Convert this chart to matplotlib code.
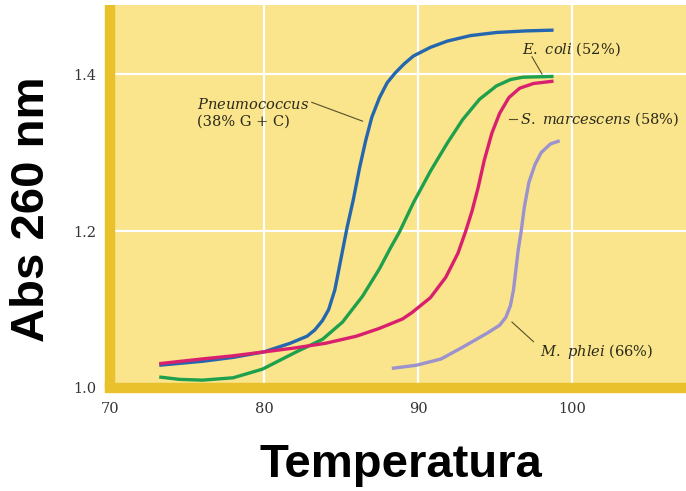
import matplotlib
matplotlib.use("Agg")
import matplotlib.pyplot as plt

# ------------- data -------------
pneumo_x = [73.2, 76, 78, 80, 81.7, 82.8, 83.3, 83.8, 84.2, 84.6, 85.0, 85.4, 85.8, 86.2, 86.6,
            87.0, 87.5, 88.0, 88.5, 89.1, 89.7, 90.8, 91.9, 93.4, 95.1, 97.0, 98.8]
pneumo_y = [1.029, 1.034, 1.039, 1.046, 1.057, 1.066, 1.074, 1.086, 1.100, 1.125, 1.165, 1.205,
            1.240, 1.280, 1.315, 1.345, 1.370, 1.389, 1.401, 1.413, 1.423, 1.434, 1.442, 1.449,
            1.453, 1.455, 1.456]

ecoli_x = [73.2, 74.5, 76, 78, 79.9, 82.1, 83.8, 85.1, 86.4, 87.5, 88.2, 88.8, 89.7, 90.8, 91.9,
           92.9, 94.0, 95.1, 96.0, 96.8, 98.8]
ecoli_y = [1.014, 1.011, 1.010, 1.013, 1.024, 1.046, 1.062, 1.084, 1.117, 1.152, 1.178, 1.199,
           1.236, 1.276, 1.312, 1.342, 1.368, 1.385, 1.393, 1.396, 1.397]

smarc_x = [73.2, 76, 78, 80, 82, 84, 86, 87.5, 89, 89.6, 90.8, 91.8, 92.6, 93.1, 93.5, 93.9, 94.3,
           94.8, 95.3, 95.9, 96.6, 97.5, 98.8]
smarc_y = [1.031, 1.037, 1.041, 1.046, 1.051, 1.057, 1.066, 1.076, 1.088, 1.096, 1.115, 1.141,
           1.172, 1.200, 1.225, 1.255, 1.290, 1.325, 1.350, 1.370, 1.382, 1.388, 1.391]

mphlei_x = [88.3, 89.9, 91.5, 92.9, 94.5, 95.3, 95.7, 96.0, 96.2, 96.35, 96.5, 96.7, 96.9, 97.2,
            97.6, 98.0, 98.6, 99.2]
mphlei_y = [1.025, 1.029, 1.037, 1.052, 1.070, 1.080, 1.090, 1.105, 1.125, 1.150, 1.175, 1.200,
            1.230, 1.262, 1.285, 1.300, 1.311, 1.315]

xticks = [70, 80, 90, 100]
yticks = [1.0, 1.2, 1.4]
ytick_labels = ["1.0", "1.2", "1.4"]

# ------------- styling -------------
plt.rcParams['mathtext.fontset'] = 'custom'
plt.rcParams['mathtext.rm'] = 'DejaVu Serif'
plt.rcParams['mathtext.it'] = 'DejaVu Serif:italic'

bg = '#FAE48C'
bar = '#E8C12C'
txt = '#2a2a1a'
serif = 'DejaVu Serif'

fig = plt.figure(figsize=(6.86, 4.91), dpi=100)
ax = fig.add_axes([0.1603, 0.2098, 0.8397, 0.78])
ax.set_facecolor(bg)
ax.set_xlim(70, 107.4)
ax.set_ylim(1.0, 1.488)

for s in ['top', 'right']:
    ax.spines[s].set_visible(False)
for s in ['left', 'bottom']:
    ax.spines[s].set_color(bar)
    ax.spines[s].set_linewidth(7.5)
    ax.spines[s].set_zorder(5)
ax.spines['left'].set_capstyle('butt')
ax.spines['bottom'].set_capstyle('projecting')

ax.set_xticks(xticks)
ax.set_yticks(yticks)
ax.set_yticklabels(ytick_labels)
ax.tick_params(length=0, labelsize=10.5, colors='#333333', pad=10)
for lab in ax.get_xticklabels() + ax.get_yticklabels():
    lab.set_family(serif)
ax.grid(True, color='white', linewidth=1.6)
ax.set_axisbelow(True)

lw = 2.4
ax.plot(pneumo_x, pneumo_y, color='#2467AE', lw=lw, solid_capstyle='butt')
ax.plot(ecoli_x, ecoli_y, color='#1EA04C', lw=lw, solid_capstyle='butt')
ax.plot(smarc_x, smarc_y, color='#D8206F', lw=lw, solid_capstyle='butt')
ax.plot(mphlei_x, mphlei_y, color='#9B92CE', lw=lw, solid_capstyle='butt')

# labels with leader lines
fs = 10.5
ax.text(75.65, 1.351, "$\\mathit{Pneumococcus}$\n(38% G + C)", fontsize=fs, family=serif,
        color=txt, va='center', ha='left', linespacing=1.25)
ax.plot([83.1, 86.4], [1.364, 1.340], color='#55502a', lw=0.8)

ax.text(96.75, 1.432, "$\\mathit{E.\\ coli}$ (52%)", fontsize=fs, family=serif,
        color=txt, va='center', ha='left')
ax.plot([97.4, 98.05], [1.422, 1.400], color='#55502a', lw=0.8)

ax.text(96.6, 1.343, "$\\mathit{S.\\ marcescens}$ (58%)", fontsize=fs, family=serif,
        color=txt, va='center', ha='left')
ax.plot([95.9, 96.45], [1.343, 1.343], color='#55502a', lw=0.8)

ax.text(97.9, 1.047, "$\\mathit{M.\\ phlei}$ (66%)", fontsize=fs, family=serif,
        color=txt, va='center', ha='left')
ax.plot([96.1, 97.5], [1.084, 1.059], color='#55502a', lw=0.8)

fig.text(0.585, 0.052, "Temperatura", fontsize=34, fontweight='bold',
         family='Liberation Sans', ha='center', va='center', color='black')
fig.text(0.046, 0.573, "Abs 260 nm", fontsize=34, fontweight='bold', rotation=90,
         family='Liberation Sans', ha='center', va='center', color='black')

fig.savefig("out.png", dpi=100)
